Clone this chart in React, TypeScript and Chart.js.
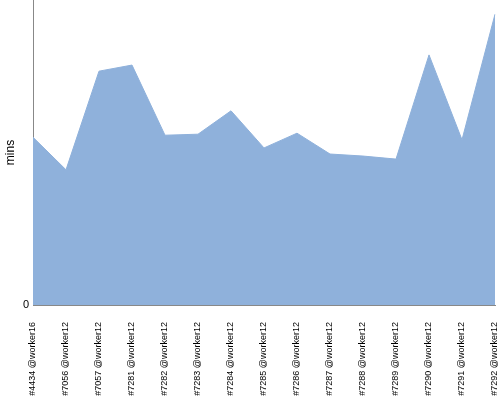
import React, { useEffect, useRef } from "react";
import { Chart, registerables } from "chart.js";

Chart.register(...registerables);

const categories = [
  "#4434 @worker16",
  "#7056 @worker12",
  "#7057 @worker12",
  "#7281 @worker12",
  "#7282 @worker12",
  "#7283 @worker12",
  "#7284 @worker12",
  "#7285 @worker12",
  "#7286 @worker12",
  "#7287 @worker12",
  "#7288 @worker12",
  "#7289 @worker12",
  "#7290 @worker12",
  "#7291 @worker12",
  "#7292 @worker12",
];

const minsValues = [33.0, 26.6, 46.0, 47.2, 33.4, 33.6, 38.2, 30.9, 33.8, 29.7, 29.3, 28.7, 49.2, 32.5, 57.2];

const yMax = 60;

export default function App() {
  const ref = useRef<HTMLCanvasElement>(null);
  useEffect(() => {
    if (!ref.current) return;
    const chart = new Chart(ref.current, {
      type: "line",
      data: {
        labels: categories,
        datasets: [
          {
            label: "mins",
            data: minsValues,
            fill: "origin",
            backgroundColor: "rgb(143,177,219)",
            borderColor: "rgb(143,177,219)",
            borderWidth: 1,
            pointRadius: 0,
            tension: 0,
          },
        ],
      },
      options: {
        animation: false,
        responsive: false,
        maintainAspectRatio: false,
        layout: { padding: { top: 0, right: 5, left: 0, bottom: 0 } },
        plugins: { legend: { display: false }, tooltip: { enabled: false } },
        scales: {
          x: {
            offset: false,
            grid: { display: false, drawTicks: false },
            border: { display: true, color: "#888" },
            ticks: {
              autoSkip: false,
              maxRotation: 90,
              minRotation: 90,
              padding: 17,
              color: "#000",
              font: { family: "Liberation Sans", size: 9 },
            },
            afterFit: (s: any) => {
              s.height = 95;
              s.paddingLeft = 0;
              s.paddingRight = 0;
            },
          },
          y: {
            min: 0,
            max: yMax,
            grid: { display: false, drawTicks: false },
            border: { display: true, color: "#888" },
            afterBuildTicks: (s: any) => {
              s.ticks = [{ value: 0 }];
            },
            ticks: {
              padding: 4,
              color: "#000",
              font: { family: "Liberation Sans", size: 11 },
            },
            title: {
              display: true,
              text: "mins",
              color: "#000",
              font: { family: "Liberation Sans", size: 12 },
              padding: { top: 3, bottom: 0 },
            },
            afterFit: (s: any) => {
              s.width = 33;
              s.paddingTop = 0;
              s.paddingBottom = 0;
            },
          },
        },
      },
    });
    return () => chart.destroy();
  }, []);
  return (
    <div style={{ position: "fixed", left: 0, top: 0, width: 500, height: 400 }}>
      <canvas ref={ref} width={500} height={400} style={{ display: "block" }} />
    </div>
  );
}
